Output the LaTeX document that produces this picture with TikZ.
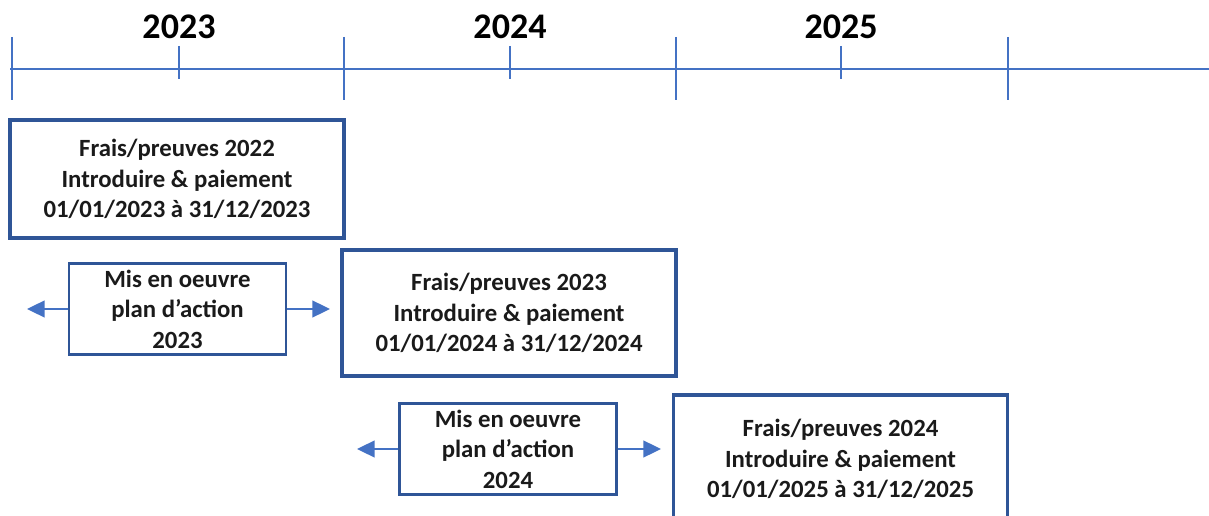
\documentclass[tikz,border=0pt]{standalone}
\usepackage{fontspec}
\setmainfont{Carlito}
\usepackage{tikz}
\usetikzlibrary{arrows.meta}
\definecolor{axisblue}{HTML}{4472C4}
\definecolor{boxblue}{HTML}{2F5597}
\definecolor{txtgray}{HTML}{1A1A1A}
\newcommand{\clrline}{axisblue}
\newcommand{\clrbox}{boxblue}

\begin{document}
\begin{tikzpicture}[x=0.02cm, y=-0.02cm,
    yearbox/.style={draw=\clrbox, line width=1.8pt, inner sep=0pt, align=center,
        minimum width=0.02cm*334, text=txtgray,
        font=\fontsize{14.1}{17.4}\selectfont\bfseries},
    planbox/.style={draw=\clrbox, line width=1.6pt, inner sep=0pt, align=center,
        minimum width=0.02cm*217, minimum height=0.02cm*91, text=txtgray,
        font=\fontsize{14.1}{17.4}\selectfont\bfseries},
    planarrow/.style={-{Triangle[length=10pt, width=9.5pt]}, \clrline, line width=1.1pt}]
    \clip (0,0) rectangle (1209,516);
    %timeline
        \draw[\clrline, line width=0.85pt] (10,69) -- (1209,69);
        \foreach \x in {12,344,676,1008} {
            \draw[\clrline, line width=0.85pt] (\x,37) -- (\x,100);
        }
        \foreach \x/\yr in {179/2023, 510/2024, 841/2025} {
            \draw[\clrline, line width=0.85pt] (\x,46) -- (\x,79);
            \node[font=\fontsize{20.5}{24}\selectfont\bfseries] (y\yr) at (\x,27) {\yr};
        }
    %boxes
        \node[yearbox, minimum height=0.02cm*118] (frais22) at (177,179)
            {Frais/preuves 2022\\Introduire \& paiement\\01/01/2023 à 31/12/2023};
        \node[yearbox, minimum height=0.02cm*126] (frais23) at (509,313)
            {Frais/preuves 2023\\Introduire \& paiement\\01/01/2024 à 31/12/2024};
        \node[yearbox, minimum height=0.02cm*128] (frais24) at (840.5,459)
            {Frais/preuves 2024\\Introduire \& paiement\\01/01/2025 à 31/12/2025};
        \node[planbox] (plan23) at (177.5,309) {Mis en oeuvre\\plan d’action\\2023};
        \node[planbox] (plan24) at (508,449) {Mis en oeuvre\\plan d’action\\2024};
    %arrows
        \coordinate (l23) at (27,309);
        \coordinate (r23) at (330,309);
        \coordinate (l24) at (357,449);
        \coordinate (r24) at (661,449);
        \foreach \p/\q in {plan23/l23, plan23/r23, plan24/l24, plan24/r24} {
            \draw[planarrow] (\p) -- (\q);
        }
\end{tikzpicture}
\end{document}
